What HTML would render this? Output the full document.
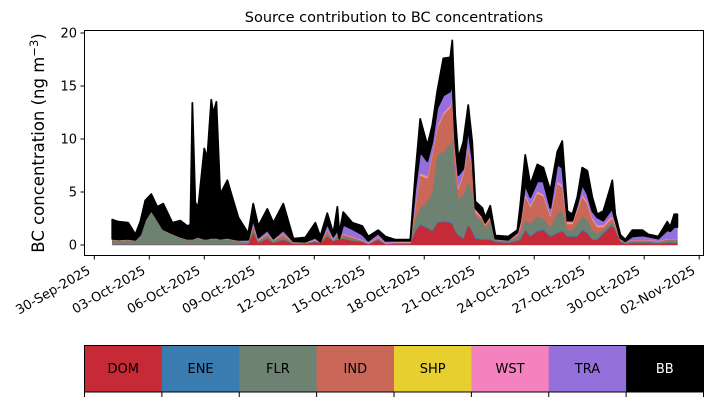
<!DOCTYPE html>
<html><head><meta charset="utf-8">
<style>
html,body{margin:0;padding:0;background:#fff;}
svg{display:block;font-family:"DejaVu Sans","Liberation Sans",sans-serif;}
</style></head>
<body>
<svg id="chart" width="714" height="402" viewBox="0 0 714 402" xmlns="http://www.w3.org/2000/svg">
  <text x="394" y="22" font-size="14.5" text-anchor="middle" fill="#000">Source contribution to BC concentrations</text>
  <text transform="translate(44,143) rotate(-90)" font-size="16.5" text-anchor="middle" fill="#000">BC concentration (ng m<tspan dy="-6" font-size="11.5">−3</tspan><tspan dy="6">)</tspan></text>
  <g id="layers"></g>
  <rect x="84.5" y="30.5" width="619" height="225" fill="none" stroke="#000" stroke-width="1"/>
  <g id="yaxis"></g>
  <g id="xaxis"></g>
  <g id="legend"></g>
</svg>
<script>
const days = [0.98,1.31,1.85,2.24,2.51,2.78,3.11,3.44,3.76,4.26,4.69,5.07,5.24,5.35,5.51,5.67,6.00,6.16,6.38,6.49,6.66,6.87,7.26,7.53,7.86,
8.40,8.67,8.95,9.44,9.77,10.31,10.86,11.51,12.06,12.33,12.71,13.04,13.26,13.37,13.58,14.08,14.62,14.95,15.49,15.88,16.42,17.24,
17.51,17.78,18.17,18.44,18.71,19.04,19.42,19.53,19.69,19.86,20.13,20.40,20.62,20.79,21.17,21.33,21.60,
21.88,22.59,23.08,
23.24,23.51,23.79,24.17,24.50,24.88,25.26,25.53,25.81,26.08,26.35,26.62,26.90,27.17,27.44,27.77,28.15,28.26,28.42,
28.70,28.97,29.35,29.90,30.22,30.77,31.26,31.42,31.64,31.81];
const dom = [.05,.05,.05,.05,.05,.05,.05,.05,.05,.05,.05,.05,.05,.05,.05,.05,.05,.05,.05,.05,.05,.05,.05,.05,.05,
.1,1.2,.2,.6,.2,.5,.1,.1,.3,.2,.8,.4,.5,.5,.6,.4,.3,.1,.5,.1,.1,.1,
1.3,1.9,1.6,1.3,2.1,2.2,2.1,2.0,1.3,.9,.6,1.9,1.3,.6,.5,.5,.5,
.3,.2,.4,
.5,1.4,.8,1.3,1.4,.8,1.1,1.3,.8,.8,.8,1.4,1.1,.5,.5,1.1,1.7,1.8,1.4,
.3,.1,.2,.2,.2,.15,.2,.2,.2,.2];
const ene = [.02,.02,.02,.02,.02,.02,.02,.02,.02,.02,.02,.02,.02,.02,.02,.02,.02,.02,.02,.02,.02,.02,.02,.02,.02,
.03,.03,.03,.03,.03,.03,.03,.03,.03,.03,.03,.03,.03,.03,.03,.03,.03,.03,.03,.03,.03,.03,
.1,.1,.1,.1,.1,.1,.1,.1,.1,.1,.1,.1,.1,.1,.1,.1,.1,
.05,.05,.05,
.1,.1,.1,.1,.1,.1,.1,.1,.1,.1,.1,.1,.1,.1,.1,.1,.1,.1,.1,
.05,.05,.05,.05,.05,.05,.05,.05,.05,.05];
const flr = [.4,.35,.4,.3,.8,2.2,3.1,2.2,1.3,.9,.6,.4,.4,.4,.5,.6,.4,.4,.5,.5,.5,.4,.5,.4,.3,
.2,.3,.2,.2,.2,.2,.1,.1,.1,0,.3,0,.3,0,.2,.2,.1,0,.1,0,.1,.1,
1.0,1.5,2.4,3.6,6.3,6.5,7.3,8.3,5.2,3.4,4.0,4.0,3.6,2.1,1.6,1.0,1.6,
.15,.15,.3,
.5,.9,1.1,1.3,1.0,.8,1.8,1.9,.5,.5,1.1,1.2,1.2,.8,.5,.2,.2,.2,.1,
.05,.1,.1,.1,.1,.1,.2,.2,.2,.2];
const ind = [.03,.03,.03,.03,.03,.03,.03,.03,.03,.03,.03,.03,.03,.03,.03,.03,.03,.03,.03,.03,.03,.03,.03,.03,.03,
0,.3,0,.2,0,.3,0,0,0,0,.3,0,.2,0,.2,.1,0,0,.1,0,0,0,
1.1,3.1,2.2,3.5,2.5,3.5,3.5,3.4,1.9,.9,1.9,3.1,2.2,.3,.3,.3,.3,
0,.05,.2,
.6,2.2,1.6,2.2,2.1,1.0,2.8,2.2,.6,.6,1.3,1.9,1.5,1.0,.6,.3,.4,.4,.3,
.1,.05,.1,.1,.1,.05,.1,.1,.1,.1];
const shp = [.01,.01,.01,.01,.01,.01,.01,.01,.01,.01,.01,.01,.01,.01,.01,.01,.01,.01,.01,.01,.01,.01,.01,.01,.01,
.02,.02,.02,.02,.02,.02,.02,.02,.02,.02,.02,.02,.02,.02,.02,.02,.02,.02,.02,.02,.02,.02,
.05,.05,.05,.05,.05,.05,.05,.05,.05,.05,.05,.05,.05,.05,.05,.05,.05,
0,0,0,
.05,.05,.05,.05,.05,.05,.05,.05,.05,.05,.05,.05,.05,.05,.05,.05,.05,.05,.05,
0,0,0,0,0,0,0,0,0,0];
const wst = [.02,.02,.02,.02,.02,.02,.02,.02,.02,.02,.02,.02,.02,.02,.02,.02,.02,.02,.02,.02,.02,.02,.02,.02,.02,
.05,.05,.05,.05,.05,.05,.05,.05,.05,.05,.05,.05,.05,.05,.05,.05,.05,.05,.05,.05,.05,.05,
.15,.15,.15,.15,.15,.15,.15,.15,.15,.15,.15,.15,.15,.15,.15,.15,.15,
0,0,.05,
.15,.15,.15,.15,.15,.15,.15,.15,.15,.15,.15,.15,.15,.15,.15,.15,.15,.15,.15,
.05,0,.05,.05,.05,.05,.05,.05,.05,.05];
const tra = [.05,.05,.05,.05,.05,.05,.05,.05,.05,.05,.05,.05,.05,.05,.05,.05,.05,.05,.05,.05,.05,.05,.05,.05,.05,
.1,.5,.2,.3,.1,.3,.05,0,.2,0,.5,.3,.3,0,.8,.7,.5,.2,.3,.2,.1,.1,
1.6,2.0,1.4,1.0,1.7,1.6,1.3,1.5,1.0,1.1,.4,1.7,.8,.2,0,0,.1,
.1,.05,.2,
.4,.9,.7,.9,1.2,.6,1.6,1.6,.1,.1,.3,.9,.7,.6,.7,.4,.6,.7,.2,
.1,.05,.3,.4,.3,.2,.8,.7,1.1,1.1];
const bb = [1.82,1.67,1.52,.52,1.22,1.82,1.52,1.22,2.42,1.02,1.52,1.22,1.32,12.82,3.32,2.82,8.52,7.62,13.02,11.72,12.82,4.22,5.42,3.92,2.12,
.6,1.5,1.1,2.0,1.5,2.5,.25,.4,1.4,.5,1.0,.3,2.2,.5,1.2,.6,.8,.4,.3,.4,.1,.1,
1.3,3.1,1.5,1.6,1.6,3.5,3.2,3.8,2.5,1.6,2.5,2.2,1.5,.6,.8,.5,.9,
.3,.3,.2,
1.5,2.8,1.2,1.6,1.3,1.6,1.2,2.5,.9,.6,.7,1.6,2.2,1.3,.3,.9,2.2,2.7,.6,
.3,.15,.6,.5,.2,.2,.8,.4,1.2,1.2];
const sourceNames = ["DOM","ENE","FLR","IND","SHP","WST","TRA","BB"];
const sourceColors = ["#c62a37","#3a7bb0","#6e8272","#c96758","#e6cf2e","#f382bf","#9370db","#000000"];
const yTicks = [0,5,10,15,20];
const xTickDays = [0,3,6,9,12,15,18,21,24,27,30,33];
const xTickLabels = ["30-Sep-2025","03-Oct-2025","06-Oct-2025","09-Oct-2025","12-Oct-2025","15-Oct-2025","18-Oct-2025","21-Oct-2025","24-Oct-2025","27-Oct-2025","30-Oct-2025","02-Nov-2025"];

const NS = "http://www.w3.org/2000/svg";
function xScale(d){ return 94.3 + d*18.33; }
function yScale(v){ return 245 - v*10.6; }

const series = [dom, ene, flr, ind, shp, wst, tra, bb];
const layers = document.getElementById('layers');
let base = days.map(() => 0);
series.forEach((s, k) => {
  const top = base.map((b, i) => b + s[i]);
  let d = "M" + days.map((t, i) => xScale(t).toFixed(2) + "," + yScale(top[i]).toFixed(2)).join("L");
  for (let i = days.length - 1; i >= 0; i--) d += "L" + xScale(days[i]).toFixed(2) + "," + yScale(base[i]).toFixed(2);
  d += "Z";
  const p = document.createElementNS(NS, "path");
  p.setAttribute("d", d);
  p.setAttribute("fill", sourceColors[k]);
  p.setAttribute("stroke", sourceColors[k]);
  p.setAttribute("stroke-width", k === 7 ? "1.8" : "0.6");
  p.setAttribute("stroke-linejoin", "round");
  
  
  layers.appendChild(p);
  base = top;
});

const yaxis = document.getElementById('yaxis');
yTicks.forEach(v => {
  const y = yScale(v);
  const l = document.createElementNS(NS, "line");
  l.setAttribute("x1", 80.5); l.setAttribute("x2", 84.5);
  l.setAttribute("y1", y); l.setAttribute("y2", y);
  l.setAttribute("stroke", "#000");
  
  
  yaxis.appendChild(l);
  const t = document.createElementNS(NS, "text");
  t.setAttribute("x", 77); t.setAttribute("y", y + 4.5);
  t.setAttribute("text-anchor", "end"); t.setAttribute("font-size", "13");
  t.textContent = v;
  
  
  yaxis.appendChild(t);
});

const xaxis = document.getElementById('xaxis');
xTickDays.forEach((d, i) => {
  const x = xScale(d);
  const l = document.createElementNS(NS, "line");
  l.setAttribute("x1", x); l.setAttribute("x2", x);
  l.setAttribute("y1", 255.5); l.setAttribute("y2", 259.5);
  l.setAttribute("stroke", "#000");
  
  
  xaxis.appendChild(l);
  const t = document.createElementNS(NS, "text");
  t.setAttribute("transform", "translate(" + (x - 3) + ",273) rotate(-30)");
  t.setAttribute("text-anchor", "end"); t.setAttribute("font-size", "13");
  t.textContent = xTickLabels[i];
  
  
  xaxis.appendChild(t);
});

const legend = document.getElementById('legend');
const segW = 619/8;
sourceNames.forEach((n, i) => {
  const x0 = 84.5 + i*segW;
  const r = document.createElementNS(NS, "rect");
  r.setAttribute("x", x0); r.setAttribute("y", 345.5);
  r.setAttribute("width", segW + 0.5); r.setAttribute("height", 46.5);
  r.setAttribute("fill", sourceColors[i]);
  
  
  legend.appendChild(r);
  const t = document.createElementNS(NS, "text");
  t.setAttribute("x", x0 + segW/2); t.setAttribute("y", 373);
  t.setAttribute("text-anchor", "middle"); t.setAttribute("font-size", "13");
  t.setAttribute("fill", n === "BB" ? "#fff" : "#000");
  t.textContent = n;
  
  
  legend.appendChild(t);
});
for (let i = 0; i <= 8; i++) {
  const x = 84.5 + i*segW;
  const l = document.createElementNS(NS, "line");
  l.setAttribute("x1", x); l.setAttribute("x2", x);
  l.setAttribute("y1", 392); l.setAttribute("y2", 397);
  l.setAttribute("stroke", "#000");
  
  
  legend.appendChild(l);
}
const fr = document.createElementNS(NS, "rect");
fr.setAttribute("x", 84.5); fr.setAttribute("y", 345.5);
fr.setAttribute("width", 619); fr.setAttribute("height", 46.5);
fr.setAttribute("fill", "none"); fr.setAttribute("stroke", "#000");


legend.appendChild(fr);
</script>
</body></html>
